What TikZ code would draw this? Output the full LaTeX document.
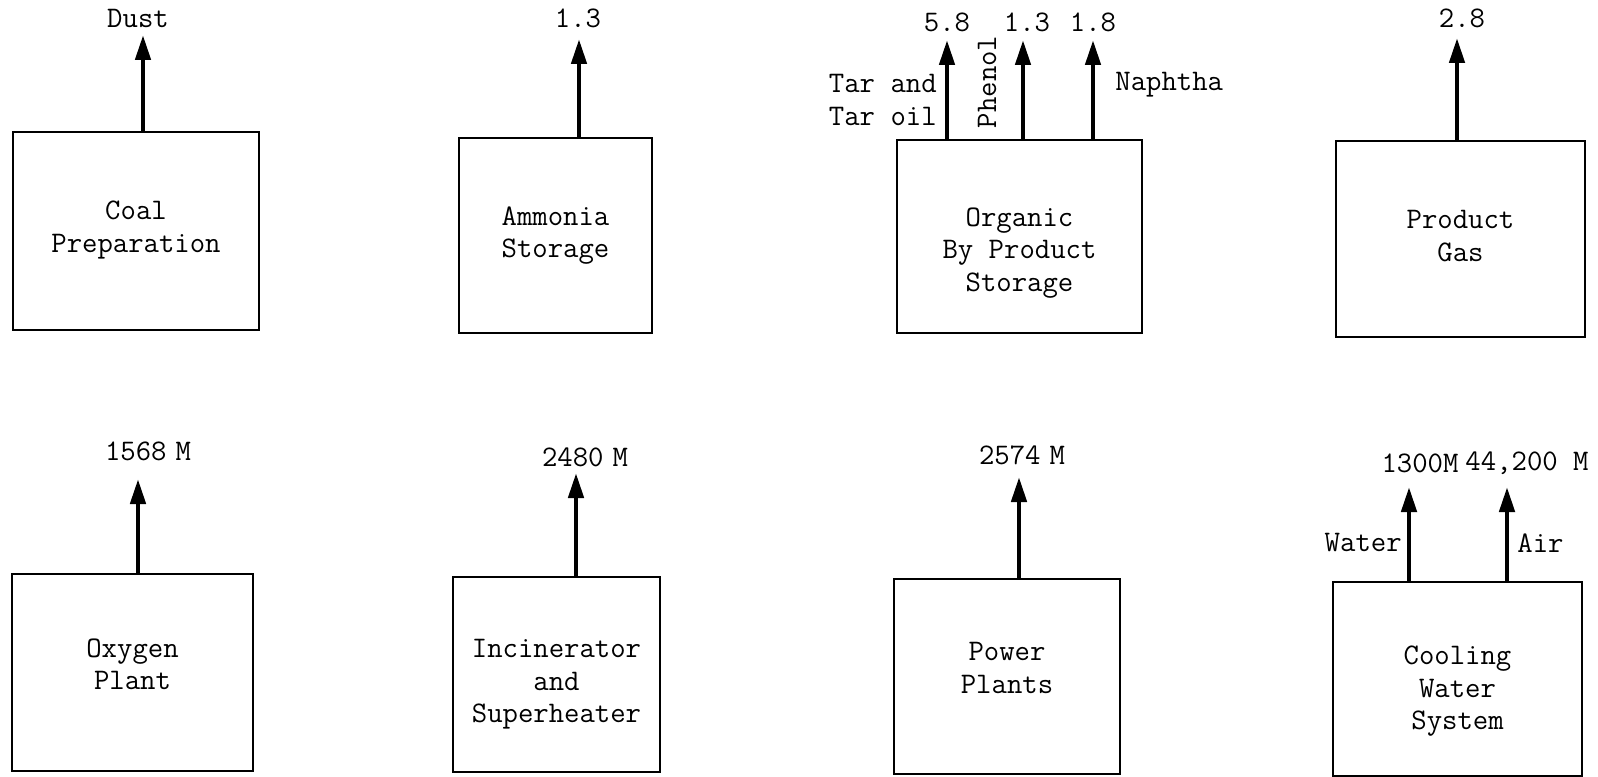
\documentclass[tikz,border=0pt]{standalone}
\usetikzlibrary{arrows.meta}

\begin{document}
\begin{tikzpicture}[
    box/.style={rectangle, draw, line width=1.6pt, inner sep=0pt},
    flow/.style={line width=2.6pt, -{Triangle[length=0.5cm, width=0.3cm]}},
    lbl/.style={inner sep=0pt, align=center},
    every node/.style={font=\fontsize{17}{18.5}\selectfont\ttfamily}
]

\useasboundingbox (0,0) rectangle (31.96,-15.54);

% ================= top row =================

\node[box, minimum width=4.92cm, minimum height=3.96cm] (coal) at (2.72,-4.62) {};
\node[box, minimum width=3.86cm, minimum height=3.90cm] (amm)  at (11.11,-4.71) {};
\node[box, minimum width=4.90cm, minimum height=3.86cm] (org)  at (20.39,-4.73) {};
\node[box, minimum width=4.98cm, minimum height=3.92cm] (gas)  at (29.21,-4.78) {};

\node[lbl] (coaltxt) at ([yshift=0.02cm]coal.center)  {Coal\\Preparation};
\node[lbl] (ammtxt)  at (amm.center)                  {Ammonia\\Storage};
\node[lbl] (orgtxt)  at ([yshift=-0.33cm]org.center)  {Organic\\By Product\\Storage};
\node[lbl] (gastxt)  at ([yshift=0.06cm]gas.center)   {Product\\Gas};

\coordinate (tdust) at (2.86,-0.70);
\coordinate (tamm)  at (11.58,-0.78);
\coordinate (ttar)  at (18.94,-0.80);
\coordinate (tphe)  at (20.46,-0.80);
\coordinate (tnap)  at (21.86,-0.80);
\coordinate (tgas)  at (29.14,-0.76);

\draw[flow] (tdust |- coal.north) -- (tdust);
\draw[flow] (tamm |- amm.north)   -- (tamm);
\draw[flow] (ttar |- org.north)   -- (ttar);
\draw[flow] (tphe |- org.north)   -- (tphe);
\draw[flow] (tnap |- org.north)   -- (tnap);
\draw[flow] (tgas |- gas.north)   -- (tgas);

\node[lbl] (ldust) at (2.76,-0.36)  {Dust};
\node[lbl] (lamm)  at (11.56,-0.36) {1.3};
\node[lbl] (ltar)  at (18.94,-0.44) {5.8};
\node[lbl] (lphe)  at (20.54,-0.44) {1.3};
\node[lbl] (lnap)  at (21.86,-0.44) {1.8};
\node[lbl] (lgas)  at (29.24,-0.36) {2.8};

\node[lbl, anchor=east, align=left] (ntar) at (18.74,-2.0) {Tar and\\Tar oil};
\node[lbl, rotate=90] (nphe) at (19.74,-1.64) {Phenol};
\node[lbl, anchor=west] (nnap) at (22.30,-1.70) {Naphtha};

% ================= bottom row =================

\node[box, minimum width=4.82cm, minimum height=3.94cm] (oxy)  at (2.65,-13.45)  {};
\node[box, minimum width=4.14cm, minimum height=3.90cm] (inc)  at (11.13,-13.49) {};
\node[box, minimum width=4.52cm, minimum height=3.90cm] (pow)  at (20.14,-13.53) {};
\node[box, minimum width=4.98cm, minimum height=3.88cm] (cool) at (29.15,-13.58) {};

\node[lbl] (oxytxt)  at ([yshift=0.16cm]oxy.center)   {Oxygen\\Plant};
\node[lbl] (inctxt)  at ([yshift=-0.20cm]inc.center)  {Incinerator\\and\\Superheater};
\node[lbl] (powtxt)  at ([yshift=0.17cm]pow.center)   {Power\\Plants};
\node[lbl] (cooltxt) at ([yshift=-0.25cm]cool.center) {Cooling\\Water\\System};

\coordinate (toxy)  at (2.76,-9.58);
\coordinate (tinc)  at (11.52,-9.46);
\coordinate (tpow)  at (20.38,-9.54);
\coordinate (twat)  at (28.18,-9.74);
\coordinate (tair)  at (30.14,-9.74);

\draw[flow] (toxy |- oxy.north)  -- (toxy);
\draw[flow] (tinc |- inc.north)  -- (tinc);
\draw[flow] (tpow |- pow.north)  -- (tpow);
\draw[flow] (twat |- cool.north) -- (twat);
\draw[flow] (tair |- cool.north) -- (tair);

\node[lbl] (loxy) at (2.96,-9.02)  {1568\hspace{0.3em}M};
\node[lbl] (linc) at (11.70,-9.14) {2480\hspace{0.3em}M};
\node[lbl] (lpow) at (20.44,-9.10) {2574\hspace{0.3em}M};
\node[lbl] (lwat) at (28.40,-9.26) {1300M};
\node[lbl] (lair) at (30.54,-9.26) {44,200 M};

\node[lbl, anchor=east] (nwat) at (28.04,-10.86) {Water};
\node[lbl, anchor=west] (nair) at (30.34,-10.86) {Air};

\end{tikzpicture}
\end{document}
